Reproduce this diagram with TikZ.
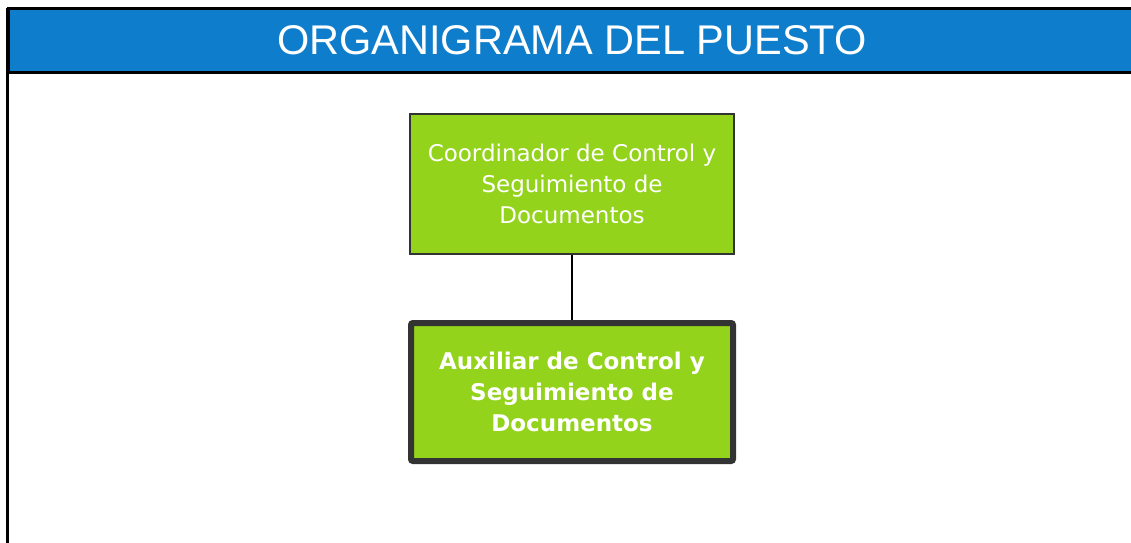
\documentclass[tikz,border=0pt]{standalone}
\usepackage{fontspec}
\setmainfont{DejaVu Sans}
\newfontfamily\titlefont{Liberation Sans}
\usepackage{xcolor}
\usetikzlibrary{positioning}
\definecolor{headblue}{HTML}{0E7DCB}
\definecolor{boxgreen}{HTML}{94D31B}
\definecolor{boxline}{HTML}{333333}
\tikzset{
  header/.style ={draw=black,line width=3pt,fill=headblue,minimum width=1140pt,minimum height=64pt,inner sep=0pt},
  title/.style  ={text=white,inner sep=0pt,font=\titlefont\fontsize{41.5}{41.5}\selectfont},
  boss/.style   ={draw=boxline,line width=1.4pt,fill=boxgreen,text=white,minimum width=324pt,minimum height=140pt,inner sep=0pt,align=center,font=\fontsize{23}{31}\selectfont},
  post/.style   ={draw=boxline,line width=6pt,rounded corners=2pt,fill=boxgreen,text=white,minimum width=322pt,minimum height=138pt,inner sep=0pt,align=center,font=\bfseries\fontsize{23}{31}\selectfont},
  link/.style   ={black,line width=1.4pt},
}
\begin{document}
\begin{tikzpicture}[x=1pt,y=-1pt]
  \useasboundingbox (0,0) rectangle (1131,542);
  \fill[white] (0,0) rectangle (1131,542);
  \draw[line width=3pt] (7,8) -- (7,545);
  \node[header](head) at (578,40.5){};
  \node[title](ttl) at (572,40.5){ORGANIGRAMA DEL PUESTO};
  \node[boss](coord) at (572,184){Coordinador de Control y\\Seguimiento de\\Documentos};
  \node[post](aux) at (572,392){Auxiliar de Control y\\Seguimiento de\\Documentos};
  \draw[link](coord)--(aux);
\end{tikzpicture}
\end{document}
